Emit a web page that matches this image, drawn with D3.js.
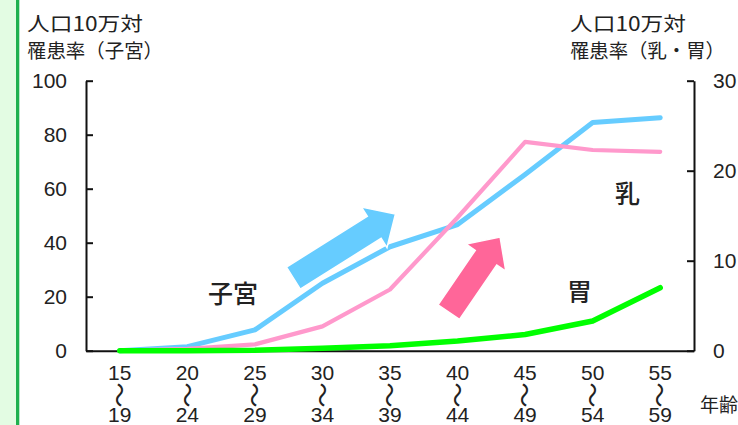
<!DOCTYPE html>
<html>
<head>
<meta charset="utf-8">
<script src="https://cdn.jsdelivr.net/npm/d3@7"></script>
<style>
body { margin: 0; background: #fff; }
.num { font-family: "Liberation Sans", Arial, sans-serif; font-size: 21px; fill: #222; }
.jp { font-family: "Noto Sans CJK JP", sans-serif; fill: #222; }
</style>
</head>
<body>
<script>
// age groups (start / end of each 5-year band)
var ageFrom = ['15', '20', '25', '30', '35', '40', '45', '50', '55'];
var ageTo = ['19', '24', '29', '34', '39', '44', '49', '54', '59'];

// incidence per 100k: 子宮 on the left axis, 乳 and 胃 on the right axis
var uterus = [0, 1.5, 7.7, 25, 38.5, 46.7, 65.3, 84.5, 86.3];
var breast = [0, 0.2, 0.7, 2.7, 6.8, 14.8, 23.2, 22.3, 22.1];
var stomach = [0, 0, 0.05, 0.27, 0.55, 1.07, 1.8, 3.3, 7.0];

var leftTicks = [0, 20, 40, 60, 80, 100];
var rightTicks = [0, 10, 20, 30];

var W = 738, H = 425;
var plot = {left: 86, right: 694, top: 80.7, bottom: 350.7};

var svg = d3.select('body').append('svg')
	.attr('width', W)
	.attr('height', H);

// green page edge on the left
svg.append('rect').attr('x', 0).attr('y', 0).attr('width', 16).attr('height', H).attr('fill', '#e3fce3');
svg.append('rect').attr('x', 16).attr('y', 0).attr('width', 3.3).attr('height', H).attr('fill', '#1fb04f');

var x = d3.scalePoint().domain(ageFrom).range([plot.left, plot.right]).padding(0.5);
var yL = d3.scaleLinear().domain([0, 100]).range([plot.bottom, plot.top]);
var yR = d3.scaleLinear().domain([0, 30]).range([plot.bottom, plot.top]);

// fractional category index -> pixel
function xi(i) { return x(ageFrom[0]) + i * x.step(); }

/** axes **/
var gL = svg.append('g')
	.attr('transform', 'translate(' + plot.left + ',0)')
	.call(d3.axisLeft(yL).tickValues(leftTicks).tickSizeInner(-7).tickSizeOuter(0).tickPadding(19));
var gR = svg.append('g')
	.attr('transform', 'translate(' + plot.right + ',0)')
	.call(d3.axisRight(yR).tickValues(rightTicks).tickSizeInner(-7).tickSizeOuter(0).tickPadding(19));
var gB = svg.append('g')
	.attr('transform', 'translate(0,' + plot.bottom + ')')
	.call(d3.axisBottom(x).tickSize(0).tickFormat(''));

[gL, gR, gB].forEach(function(g) {
	g.select('.domain').attr('stroke', '#111').attr('stroke-width', 2);
	g.selectAll('.tick line').attr('stroke', '#111').attr('stroke-width', 2);
	g.selectAll('.tick text').attr('class', 'num').attr('font-size', null).attr('font-family', null);
});

// x labels: "15 / 〜 / 19" stacked
var xl = svg.append('g').selectAll('g')
	.data(ageFrom).enter()
	.append('g')
		.attr('transform', function(d) { return 'translate(' + x(d) + ',0)'; });
xl.append('text').attr('class', 'num').attr('text-anchor', 'middle').attr('y', 380).text(function(d) { return d; });
xl.append('text').attr('class', 'jp').attr('text-anchor', 'middle')
	.attr('font-size', 25)
	.attr('dy', '0.35em')
	.attr('transform', 'translate(-1,395) rotate(90)')
	.text('〜');
xl.append('text').attr('class', 'num').attr('text-anchor', 'middle').attr('y', 422)
	.text(function(d, i) { return ageTo[i]; });

svg.append('text').attr('class', 'jp').attr('x', 700).attr('y', 412).attr('font-size', 19).text('年齢');

/** lines **/
function lineOn(scale) {
	return d3.line()
		.x(function(d, i) { return x(ageFrom[i]); })
		.y(function(d) { return scale(d); });
}
var series = [
	{vals: uterus, scale: yL, color: '#66ccff', w: 5},
	{vals: breast, scale: yR, color: '#ff99cc', w: 4.2},
	{vals: stomach, scale: yR, color: '#00ff00', w: 5.5}
];
series.forEach(function(s) {
	svg.append('path')
		.datum(s.vals)
		.attr('d', lineOn(s.scale))
		.attr('fill', 'none')
		.attr('stroke', s.color)
		.attr('stroke-width', s.w)
		.attr('stroke-linejoin', 'round')
		.attr('stroke-linecap', 'round');
});

/** block arrows (from/to in category index and left-axis value) **/
var arrows = [
	{from: [2.57, 26.9], to: [4.08, 50.6], color: '#66ccff'},
	{from: [4.87, 14.3], to: [5.63, 42.1], color: '#ff6699'}
];
arrows.forEach(function(a) {
	var x0 = xi(a.from[0]), y0 = yL(a.from[1]);
	var x1 = xi(a.to[0]), y1 = yL(a.to[1]);
	var L = Math.hypot(x1 - x0, y1 - y0);
	var ang = Math.atan2(y1 - y0, x1 - x0) * 180 / Math.PI;
	var sw = 13, hw = 24, hl = 25;
	var pts = [[0, -sw], [L - hl, -sw], [L - hl, -hw], [L, 0], [L - hl, hw], [L - hl, sw], [0, sw]];
	svg.append('polygon')
		.attr('points', pts.map(function(p) { return p.join(','); }).join(' '))
		.attr('transform', 'translate(' + x0 + ',' + y0 + ') rotate(' + ang + ')')
		.attr('fill', a.color)
		.attr('stroke', '#fff')
		.attr('stroke-width', 1.5);
});

/** series labels **/
var names = [
	{t: '子宮', x: 233, y: 303},
	{t: '乳', x: 627.5, y: 203},
	{t: '胃', x: 579.5, y: 301}
];
svg.append('g').selectAll('text')
	.data(names).enter()
	.append('text')
		.attr('class', 'jp')
		.attr('text-anchor', 'middle')
		.attr('font-size', 25)
		.attr('font-weight', 500)
		.attr('x', function(d) { return d.x; })
		.attr('y', function(d) { return d.y; })
		.text(function(d) { return d.t; });

/** axis titles **/
var titles = [
	{t: '人口10万対', x: 27, y: 31, len: 116},
	{t: '罹患率（子宮）', x: 27, y: 58, len: 136},
	{t: '人口10万対', x: 570, y: 31, len: 116},
	{t: '罹患率（乳・胃）', x: 570, y: 58, len: 155}
];
svg.append('g').selectAll('text')
	.data(titles).enter()
	.append('text')
		.attr('class', 'jp')
		.attr('font-size', 19.5)
		.attr('x', function(d) { return d.x; })
		.attr('y', function(d) { return d.y; })
		.attr('textLength', function(d) { return d.len; })
		.attr('lengthAdjust', 'spacingAndGlyphs')
		.text(function(d) { return d.t; });
</script>
</body>
</html>
